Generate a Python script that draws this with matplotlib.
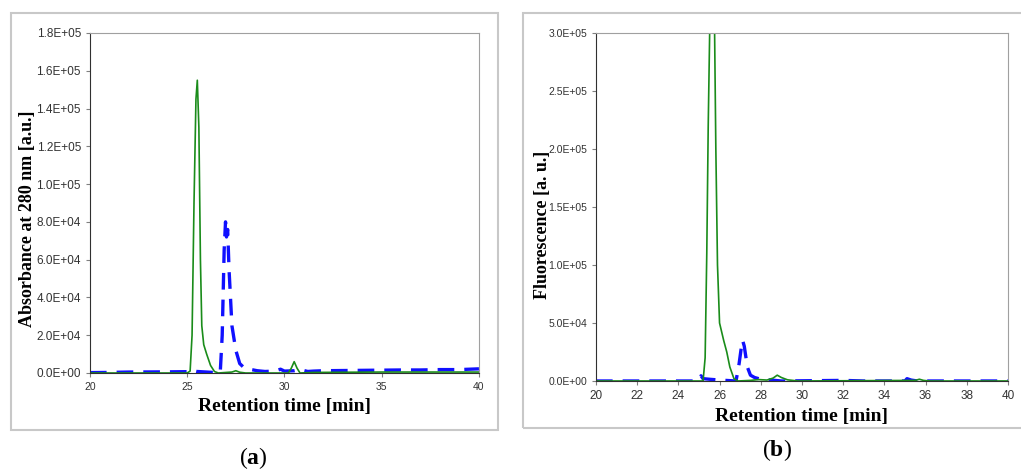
import matplotlib
matplotlib.use("Agg")
import matplotlib.pyplot as plt
from matplotlib.patches import Rectangle
from matplotlib.ticker import FuncFormatter

# Panel (a): absorbance at 280 nm
abs_green_t = [20.0, 25.0, 25.15, 25.25, 25.35, 25.45, 25.52, 25.6, 25.68, 25.75, 25.85, 26.0, 26.2,
               26.4, 26.6, 27.3, 27.5, 27.7, 28.0, 30.2, 30.35, 30.5, 30.65, 30.8, 31.5, 35.0, 40.0]
abs_green_v = [0, 0, 1000, 20000, 90000, 145000, 155000, 130000, 60000, 25000, 15000, 10000, 4000,
               800, 0, 500, 1200, 400, 0, 0, 2500, 6000, 2500, 0, 300, 500, 500]

abs_blue_t = [20.0, 21.0, 22.0, 24.0, 25.0, 25.2, 25.5, 26.0, 26.5, 26.7, 26.8, 26.9, 26.97, 27.02,
              27.08, 27.15, 27.3, 27.5, 27.7, 27.9, 28.2, 28.6, 29.0, 29.5, 29.8, 30.0, 30.5, 30.8,
              31.2, 31.5, 32.0, 33.0, 34.0, 35.0, 36.0, 37.0, 38.0, 39.0, 40.0]
abs_blue_v = [200, 300, 500, 600, 700, 1500, 800, 500, 200, 500, 20000, 65000, 80000, 72000,
              76000, 55000, 25000, 12000, 5000, 3000, 2000, 1200, 800, 1000, 2000, 1000, 1200, 1800,
              800, 1000, 1200, 1300, 1400, 1500, 1600, 1600, 1800, 1800, 2200]

# Panel (b): fluorescence
fl_green_t = [20.0, 25.2, 25.3, 25.38, 25.45, 25.52, 25.6, 25.7, 25.76, 25.82, 25.9, 26.0, 26.2, 26.35,
              26.5, 26.7, 26.9, 27.5, 27.9, 28.3, 28.6, 28.8, 29.0, 29.3, 29.8, 35.5, 35.7, 35.9, 36.2, 40.0]
fl_green_v = [0, 0, 20000, 110000, 220000, 300000, 360000, 360000, 300000, 200000, 100000, 50000, 35000, 25000,
              12000, 2000, 0, 500, 1200, 800, 2500, 5000, 3000, 1000, 0, 500, 1500, 500, 0, 0]

fl_blue_t = [20.0, 24.8, 25.0, 25.1, 25.2, 25.5, 26.0, 26.5, 26.8, 26.95, 27.05, 27.12, 27.2, 27.35,
             27.5, 27.7, 28.0, 28.5, 29.0, 32.0, 33.0, 35.0, 35.1, 35.3, 35.6, 40.0]
fl_blue_v = [0, 0, 1500, 4500, 2000, 1500, 800, 300, 0, 15000, 28000, 35000, 30000, 12000,
             5000, 3000, 1500, 800, 0, 500, 0, 0, 2000, 800, 0, 0]

GREEN = "#1a8c1a"
BLUE = "#1010ff"

plt.rcParams["mathtext.fontset"] = "custom"
plt.rcParams["mathtext.rm"] = "Liberation Serif"
plt.rcParams["mathtext.bf"] = "Liberation Serif:bold"

fig = plt.figure(figsize=(10.21, 4.70), dpi=100)

# grey frames around each panel
fig.patches.append(Rectangle((0.0108, 0.0851), 0.477, 0.887, transform=fig.transFigure,
                             fill=False, edgecolor="#c8c8c8", linewidth=1.5))
fig.patches.append(Rectangle((0.5122, 0.0894), 0.49, 0.883, transform=fig.transFigure,
                             fill=False, edgecolor="#c8c8c8", linewidth=1.5))

sci = FuncFormatter(lambda v, p: f"{v:.1E}")


def style_axes(ax, ylab, ytick_size, xtick_size, ylab_x, ylab_y):
    for s in ["top", "right"]:
        ax.spines[s].set_color("#a0a0a0")
    for s in ["left", "bottom"]:
        ax.spines[s].set_color("#303030")
    ax.tick_params(axis="y", direction="out", length=3, color="#808080",
                   labelsize=ytick_size, labelcolor="#333333")
    ax.tick_params(axis="x", direction="out", length=3, color="#808080",
                   labelsize=xtick_size, labelcolor="#333333")
    for lab in ax.get_xticklabels() + ax.get_yticklabels():
        lab.set_family("Liberation Sans")
    ax.yaxis.set_major_formatter(sci)
    ax.set_xlabel("Retention time [min]", family="Liberation Serif", fontweight="bold",
                  fontsize=14, labelpad=4)
    ax.set_ylabel(ylab, family="Liberation Serif", fontweight="bold", fontsize=13)
    ax.yaxis.set_label_coords(ylab_x, ylab_y)


# (a)
ax1 = fig.add_axes([0.0881, 0.2064, 0.381, 0.7234])
ax1.plot(abs_blue_t, abs_blue_v, color=BLUE, lw=2.4, dashes=(5, 3))
ax1.plot(abs_green_t, abs_green_v, color=GREEN, lw=1.2)
ax1.set_xlim(20, 40)
ax1.set_ylim(0, 180000)
ax1.set_xticks([20, 25, 30, 35, 40])
ax1.set_yticks(range(0, 180001, 20000))
style_axes(ax1, "Absorbance at 280 nm [a.u.]", 8.5, 7.5, -0.139, 0.455)

# (b)
ax2 = fig.add_axes([0.5837, 0.1894, 0.4035, 0.7404])
ax2.plot(fl_blue_t, fl_blue_v, color=BLUE, lw=2.4, dashes=(5, 3))
ax2.plot(fl_green_t, fl_green_v, color=GREEN, lw=1.2)
ax2.set_xlim(20, 40)
ax2.set_ylim(0, 300000)
ax2.set_xticks(range(20, 41, 2))
ax2.set_yticks(range(0, 300001, 50000))
style_axes(ax2, "Fluorescence [a. u.]", 7.5, 8.5, -0.109, 0.45)

fig.text(0.248, 0.025, r"($\mathbf{a}$)", family="Liberation Serif", fontsize=17,
         ha="center", va="center")
fig.text(0.761, 0.043, r"($\mathbf{b}$)", family="Liberation Serif", fontsize=17,
         ha="center", va="center")

fig.savefig("out.png", dpi=100)
